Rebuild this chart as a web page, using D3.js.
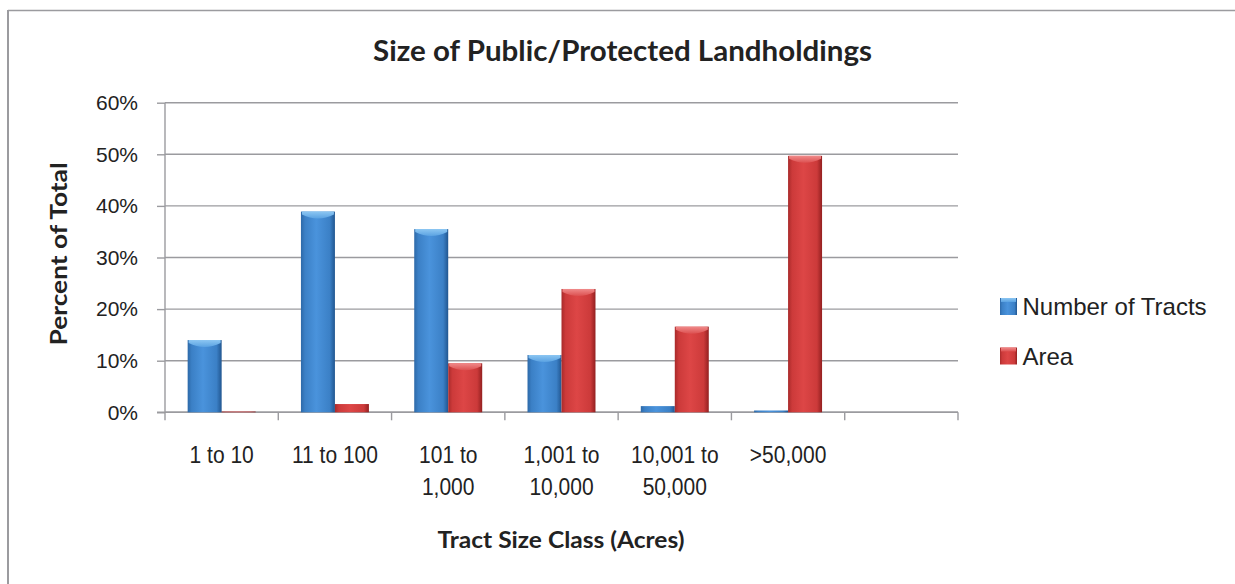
<!DOCTYPE html>
<html>
<head>
<meta charset="utf-8">
<script src="https://cdn.jsdelivr.net/npm/d3@7"></script>
<style>
  html, body { margin: 0; padding: 0; background: #fff; }
  svg { display: block; }
</style>
</head>
<body>
<svg id="chart" width="1235" height="584"></svg>
<script>
// ---- data ----
const categories = ["1 to 10", "11 to 100", "101 to 1,000", "1,001 to 10,000", "10,001 to 50,000", ">50,000", ""];
const categoryLines = [["1 to 10"], ["11 to 100"], ["101 to", "1,000"], ["1,001 to", "10,000"], ["10,001 to", "50,000"], [">50,000"], []];
const seriesNames = ["Number of Tracts", "Area"];
const tracts = [14.0, 38.9, 35.5, 11.1, 1.2, 0.35];
const area = [0.15, 1.6, 9.5, 23.9, 16.6, 49.7];
const yTicks = [0, 10, 20, 30, 40, 50, 60];
const titleText = "Size of Public/Protected Landholdings";
const xTitleText = "Tract Size Class (Acres)";
const yTitleText = "Percent of Total";

// ---- layout ----
const svg = d3.select("#chart");
const plot = { left: 165, right: 958, top: 102.7, bottom: 412.3 };
const gridColor = "#9b9b9f";
const textColor = "#222";
const tickFont = "'Liberation Sans', Arial, sans-serif";
const titleFont = "Lato, 'Open Sans', sans-serif";

// outer frame (only top and left visible)
svg.append("line").attr("x1", 8).attr("x2", 1235).attr("y1", 10.5).attr("y2", 10.5)
  .attr("stroke", gridColor).attr("stroke-width", 1.5);
svg.append("line").attr("x1", 8).attr("x2", 8).attr("y1", 10).attr("y2", 584)
  .attr("stroke", gridColor).attr("stroke-width", 2);

const y = d3.scaleLinear().domain([0, 60]).range([plot.bottom, plot.top]);
const x = d3.scaleBand().domain(categories.map((d, i) => i)).range([plot.left, plot.right]).padding(0);
const bw = x.bandwidth();
const x1 = d3.scaleBand().domain(seriesNames).range([bw * 0.2, bw * 0.8]).padding(0);

// gradients
const defs = svg.append("defs");
function barGrad(id, c0, c1, c2, c3) {
  const g = defs.append("linearGradient").attr("id", id).attr("x1", "0%").attr("x2", "100%").attr("y1", "0").attr("y2", "0");
  g.append("stop").attr("offset", "0%").attr("stop-color", c0);
  g.append("stop").attr("offset", "12%").attr("stop-color", c1);
  g.append("stop").attr("offset", "45%").attr("stop-color", c2);
  g.append("stop").attr("offset", "85%").attr("stop-color", c1);
  g.append("stop").attr("offset", "100%").attr("stop-color", c3);
}
barGrad("gBlue", "#2d69a8", "#3b80c6", "#4a93dc", "#215690");
barGrad("gRed", "#a82a2a", "#cc3a3a", "#dd4646", "#932020");
function capGrad(id, c0, c1) {
  const g = defs.append("linearGradient").attr("id", id).attr("x1", "0").attr("x2", "0").attr("y1", "0").attr("y2", "1");
  g.append("stop").attr("offset", "0%").attr("stop-color", c0);
  g.append("stop").attr("offset", "100%").attr("stop-color", c1);
}
capGrad("cBlue", "#8cc6f2", "#5aa2e2");
capGrad("cRed", "#f08a8a", "#dc5050");
const fills = { "Number of Tracts": ["url(#gBlue)", "url(#cBlue)"], "Area": ["url(#gRed)", "url(#cRed)"] };

// gridlines
svg.append("g").selectAll("line").data(yTicks).join("line")
  .attr("x1", plot.left).attr("x2", plot.right)
  .attr("y1", d => y(d)).attr("y2", d => y(d))
  .attr("stroke", gridColor).attr("stroke-width", 1.4);

// y axis
const yAxis = svg.append("g").attr("transform", `translate(${plot.left},0)`)
  .call(d3.axisLeft(y).tickValues(yTicks).tickFormat(d => d + "%").tickSize(8).tickPadding(19));
yAxis.select(".domain").attr("stroke", gridColor).attr("stroke-width", 1.4).attr("d", `M0,${plot.top}V${plot.bottom}`);
yAxis.selectAll(".tick line").attr("stroke", gridColor).attr("stroke-width", 1.4);
yAxis.selectAll(".tick text").attr("font-family", tickFont).attr("font-size", 21).attr("fill", textColor);

// x axis
const boundaries = d3.range(categories.length + 1).map(i => plot.left + i * bw);
svg.append("line").attr("x1", plot.left - 8).attr("x2", plot.right).attr("y1", plot.bottom).attr("y2", plot.bottom)
  .attr("stroke", gridColor).attr("stroke-width", 1.6);
svg.append("g").selectAll("line").data(boundaries).join("line")
  .attr("x1", d => d).attr("x2", d => d).attr("y1", plot.bottom).attr("y2", plot.bottom + 8)
  .attr("stroke", gridColor).attr("stroke-width", 1.4);

// bars
const data = [];
categories.forEach((c, i) => {
  if (i < tracts.length) {
    data.push({ i, s: "Number of Tracts", v: tracts[i] });
    data.push({ i, s: "Area", v: area[i] });
  }
});
const bars = svg.append("g").selectAll("g").data(data).join("g")
  .attr("transform", d => `translate(${x(d.i) + x1(d.s)},0)`);
bars.append("rect")
  .attr("x", 0).attr("width", x1.bandwidth())
  .attr("y", d => y(d.v)).attr("height", d => y(0) - y(d.v))
  .attr("fill", d => fills[d.s][0]);
bars.filter(d => y(0) - y(d.v) > 10).append("path")
  .attr("d", d => {
    const w = x1.bandwidth(), t = y(d.v);
    return `M1,${t}H${w - 1}V${t + 3}Q${w / 2},${t + 11} 1,${t + 3}Z`;
  })
  .attr("fill", d => fills[d.s][1]);

// x tick labels (slightly tall glyphs, as in the reference)
const xLabelItems = [];
categoryLines.forEach((lines, i) => lines.forEach((t, k) => xLabelItems.push({ t, k, cx: x(i) + bw / 2 })));
svg.append("g").selectAll("text").data(xLabelItems).join("text")
  .attr("transform", d => `translate(${d.cx},${463 + d.k * 32}) scale(1,1.16)`)
  .attr("text-anchor", "middle")
  .attr("font-family", tickFont).attr("font-size", 21).attr("fill", textColor)
  .text(d => d.t);

// fit helper: width by font size, cap height by vertical stretch
function fitBox(sel, targetW, targetCap, capRatio, baseTransform) {
  const w = sel.node().getComputedTextLength();
  const fs = parseFloat(sel.attr("font-size")) * targetW / w;
  sel.attr("font-size", fs);
  const s = targetCap / (capRatio * fs);
  sel.attr("transform", `${baseTransform} scale(1,${s})`);
}

// title
const title = svg.append("text").attr("text-anchor", "middle")
  .attr("font-family", titleFont).attr("font-weight", "bold").attr("font-size", 26).attr("fill", textColor)
  .text(titleText);
fitBox(title, 499, 20.5, 0.72, "translate(622.5,61)");

// x title
const xt = svg.append("text").attr("text-anchor", "middle")
  .attr("font-family", titleFont).attr("font-weight", "bold").attr("font-size", 20).attr("fill", textColor)
  .text(xTitleText);
fitBox(xt, 247, 17, 0.72, "translate(561,548)");

// y title
const yt = svg.append("text").attr("text-anchor", "middle")
  .attr("font-family", titleFont).attr("font-weight", "bold").attr("font-size", 20).attr("fill", textColor)
  .text(yTitleText);
fitBox(yt, 183, 17, 0.72, "translate(67,254) rotate(-90)");

// legend
const legendBase = [315, 364.5];
const lg = svg.append("g").selectAll("g").data(seriesNames).join("g")
  .attr("transform", (d, i) => `translate(1000,${legendBase[i]})`);
lg.append("rect").attr("x", 0).attr("y", -17).attr("width", 17).attr("height", 17)
  .attr("fill", d => fills[d][0]);
lg.append("rect").attr("x", 1).attr("y", -17).attr("width", 15).attr("height", 4)
  .attr("fill", d => fills[d][1]);
lg.append("text").attr("x", 22.5).attr("y", 0)
  .attr("font-family", tickFont).attr("font-size", 24).attr("fill", textColor)
  .text(d => d);
</script>
</body>
</html>
